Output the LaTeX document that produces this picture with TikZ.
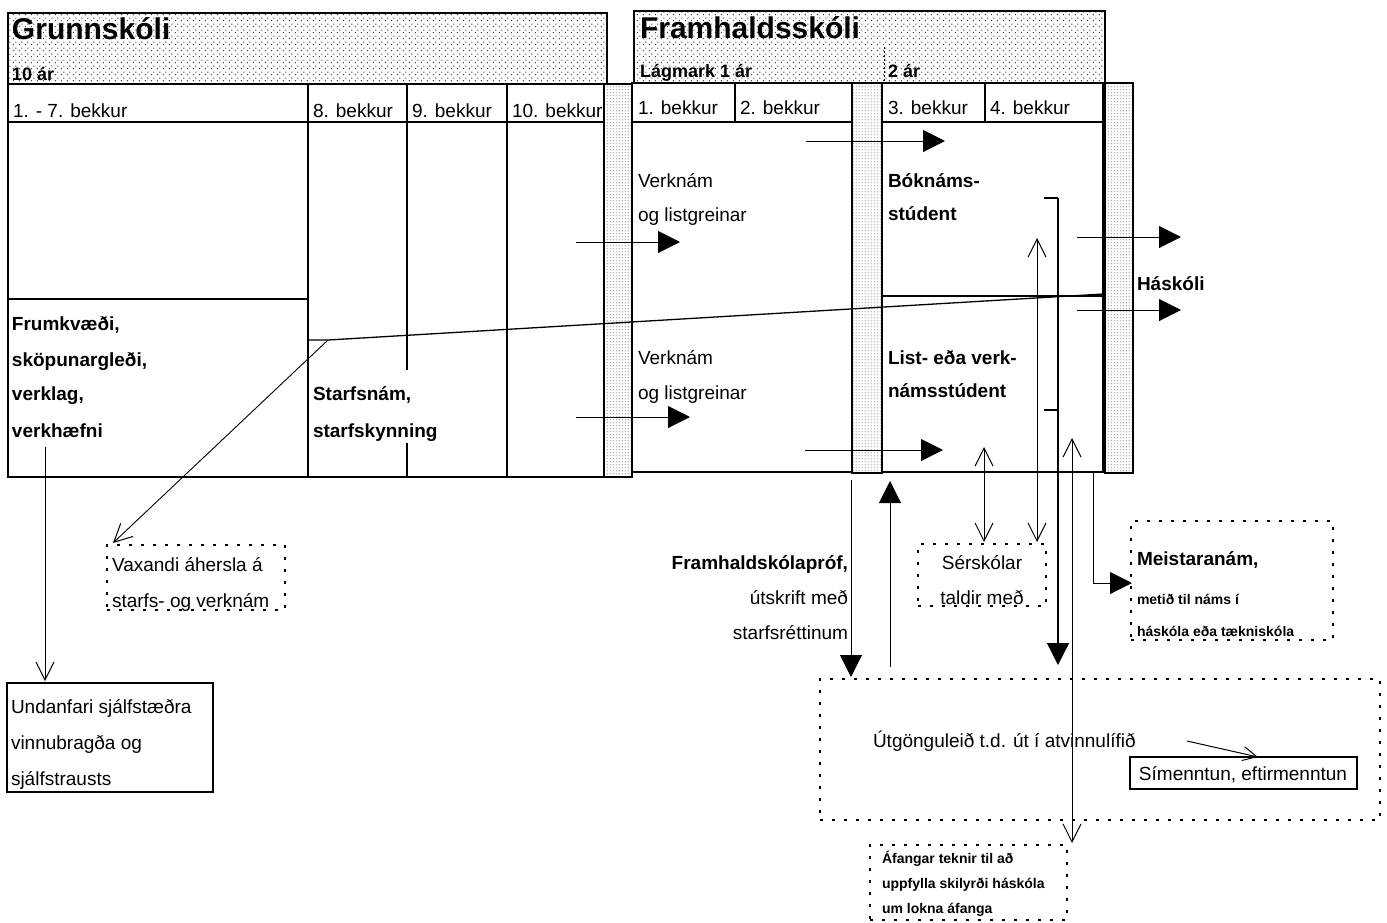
\documentclass[tikz,border=0pt]{standalone}
\usepackage{fontspec}
\setmainfont{Liberation Sans}
\usetikzlibrary{arrows.meta,patterns}
\pgfdeclarepatternformonly{sparsedots}{\pgfpointorigin}{\pgfpoint{6pt}{6pt}}{\pgfpoint{6pt}{6pt}}{%
  \pgfpathcircle{\pgfpoint{1.5pt}{1.5pt}}{0.65pt}%
  \pgfpathcircle{\pgfpoint{4.5pt}{4.5pt}}{0.65pt}%
  \pgfusepath{fill}}
\pgfdeclarepatternformonly{densedots}{\pgfpointorigin}{\pgfpoint{3pt}{3pt}}{\pgfpoint{3pt}{3pt}}{%
  \pgfpathcircle{\pgfpoint{1.5pt}{1.5pt}}{0.6pt}%
  \pgfusepath{fill}}
\tikzset{
  frame/.style={draw, line width=1.3pt, inner sep=0pt, outer sep=0pt, anchor=north west},
  hdr/.style={frame, pattern=sparsedots},
  bar/.style={frame, pattern=densedots},
  dotbox/.style={draw, line width=1.2pt, dash pattern=on 3pt off 9pt, inner sep=0pt, outer sep=0pt, anchor=north west},
  solidbox/.style={frame},
  txt/.style={anchor=base west, inner sep=0pt, outer sep=0pt, font=\fontsize{19}{22}\selectfont},
  btxt/.style={txt, font=\fontsize{19}{22}\selectfont\bfseries},
  stxt/.style={txt, font=\fontsize{14}{16}\selectfont\bfseries},
  ttl/.style={txt, font=\fontsize{30}{34}\selectfont\bfseries},
  hsub/.style={txt, font=\fontsize{18}{20}\selectfont\bfseries},
  ln/.style={line width=1.3pt},
  farr/.style={line width=1pt, -{Triangle[length=22pt,width=22pt]}},
  oarr/.style={line width=0.9pt, -{Straight Barb[length=18pt,width=18pt,line width=1pt]}},
  doarr/.style={line width=0.9pt, {Straight Barb[length=18pt,width=18pt,line width=1pt]}-{Straight Barb[length=18pt,width=18pt,line width=1pt]}},
}
\begin{document}
\begin{tikzpicture}[x=1pt,y=-1pt]
\useasboundingbox (0,0) rectangle (1387,922);
% ---------- headers
\node[hdr, minimum width=599pt, minimum height=71pt] (ghdr) at (8,13) {};
\node[hdr, minimum width=471pt, minimum height=72pt] (fhdr) at (634,11) {};
\draw[line width=1pt, dash pattern=on 2pt off 2pt] (884,47) -- (884,83);
\node[ttl] (gtitle) at (12,39) {Grunnskóli};
\node[hsub] (gyears) at (12,80) {10 ár};
\node[ttl] (ftitle) at (640,38) {Framhaldsskóli};
\node[hsub] (fyears1) at (640,77) {Lágmark 1 ár};
\node[hsub] (fyears2) at (888,77) {2 ár};
% ---------- main boxes
\node[frame, minimum width=596pt, minimum height=393pt] (gbox) at (8,84) {};
\node[bar, minimum width=28pt, minimum height=393pt] (bar1) at (604,84) {};
\node[frame, minimum width=220pt, minimum height=389pt] (fbox1) at (632,83) {};
\node[bar, minimum width=30pt, minimum height=390pt] (bar2) at (852,83) {};
\node[frame, minimum width=221pt, minimum height=389pt] (fbox2) at (882,83) {};
\node[bar, minimum width=28pt, minimum height=390pt] (bar3) at (1105,83) {};
% grunnskoli internal lines
\draw[ln] (8,122) -- (604,122);
\draw[ln] (308,84) -- (308,477);
\draw[ln] (407,84) -- (407,370);
\draw[ln] (407,443) -- (407,477);
\draw[ln] (507,84) -- (507,477);
\draw[ln] (8,299) -- (308,299);
% framhalds internal lines
\draw[ln] (632,122) -- (852,122);
\draw[ln] (735,83) -- (735,122);
\draw[ln] (882,122) -- (1103,122);
\draw[ln] (985,83) -- (985,122);
\draw[ln] (882,296) -- (1103,296);
% slanted divider
\coordinate (kink) at (328,340);
\draw[ln] (308,340) -- (kink) -- (1103,294);
% ---------- row labels
\node[txt] (b17) at (13,117) {1. - 7. bekkur};
\node[txt] (b8) at (313,117) {8. bekkur};
\node[txt] (b9) at (412,117) {9. bekkur};
\node[txt] (b10) at (512,117) {10. bekkur};
\node[txt] (f1) at (638,114) {1. bekkur};
\node[txt] (f2) at (740,114) {2. bekkur};
\node[txt] (f3) at (888,114) {3. bekkur};
\node[txt] (f4) at (990,114) {4. bekkur};
% ---------- content texts
\node[btxt] (fr1) at (12,330) {Frumkvæði,};
\node[btxt] (fr2) at (12,366) {sköpunargleði,};
\node[btxt] (fr3) at (12,400) {verklag,};
\node[btxt] (fr4) at (12,437) {verkhæfni};
\node[btxt] (st1) at (313,400) {Starfsnám,};
\node[btxt] (st2) at (313,437) {starfskynning};
\node[txt] (vk1) at (638,187) {Verknám};
\node[txt] (vk2) at (638,221) {og listgreinar};
\node[txt] (vk3) at (638,364) {Verknám};
\node[txt] (vk4) at (638,399) {og listgreinar};
\node[btxt] (bk1) at (888,187) {Bóknáms-};
\node[btxt] (bk2) at (888,220) {stúdent};
\node[btxt] (ls1) at (888,364) {List- eða verk-};
\node[btxt] (ls2) at (888,397) {námsstúdent};
\node[btxt] (hask) at (1137,290) {Háskóli};
% ---------- flow arrows inside
\coordinate (a1s) at (576,242); \coordinate (a1e) at (680,242);
\coordinate (a2s) at (576,417); \coordinate (a2e) at (690,417);
\coordinate (a3s) at (806,141); \coordinate (a3e) at (945,141);
\coordinate (a4s) at (805,450); \coordinate (a4e) at (943,450);
\coordinate (a5s) at (1077,237); \coordinate (a5e) at (1181,237);
\coordinate (a6s) at (1077,310); \coordinate (a6e) at (1181,310);
\draw[farr] (a1s) -- (a1e);
\draw[farr] (a2s) -- (a2e);
\draw[farr] (a3s) -- (a3e);
\draw[farr] (a4s) -- (a4e);
\draw[farr] (a5s) -- (a5e);
\draw[farr] (a6s) -- (a6e);
% ---------- lower boxes
\node[dotbox, minimum width=178pt, minimum height=65pt] (vax) at (107,545) {};
\node[txt] (vax1) at (112,571) {Vaxandi áhersla á};
\node[txt] (vax2) at (112,607) {starfs- og verknám};
\node[solidbox, minimum width=206pt, minimum height=109pt] (und) at (7,683) {};
\node[txt] (und1) at (11,713) {Undanfari sjálfstæðra};
\node[txt] (und2) at (11,749) {vinnubragða og};
\node[txt] (und3) at (11,785) {sjálfstrausts};
\node[btxt, anchor=base east] (fp1) at (848,569) {Framhaldskólapróf,};
\node[txt, anchor=base east] (fp2) at (848,604) {útskrift með};
\node[txt, anchor=base east] (fp3) at (848,639) {starfsréttinum};
\node[dotbox, minimum width=128pt, minimum height=62pt] (ser) at (918,544) {};
\node[txt, anchor=base] (ser1) at (982,569) {Sérskólar};
\node[txt, anchor=base] (ser2) at (982,604) {taldir með};
\node[dotbox, minimum width=202pt, minimum height=119pt] (mei) at (1131,521) {};
\node[btxt] (mei1) at (1137,565) {Meistaranám,};
\node[stxt] (mei2) at (1137,604) {metið til náms í};
\node[stxt] (mei3) at (1137,636) {háskóla eða tækniskóla};
\node[dotbox, minimum width=560pt, minimum height=141pt] (utg) at (820,679) {};
\node[txt] (utg1) at (873,747) {Útgönguleið t.d. út í atvinnulífið};
\node[solidbox, minimum width=227pt, minimum height=32pt] (sim) at (1130,757) {};
\node[txt, anchor=base] (sim1) at (1243,780) {Símenntun, eftirmenntun};
\node[dotbox, minimum width=197pt, minimum height=75pt] (afa) at (870,845) {};
\node[stxt] (afa1) at (882,863) {Áfangar teknir til að};
\node[stxt] (afa2) at (882,888) {uppfylla skilyrði háskóla};
\node[stxt] (afa3) at (882,913) {um lokna áfanga};
% ---------- connectors
\draw[oarr] (kink) -- (113,543);
\draw[oarr] (45,447) -- (45,681);
\draw[farr] (851,480) -- (851,677);
\draw[farr] (890,667) -- (890,481);
\draw[doarr] (984,447) -- (984,542);
\draw[doarr] (1037,238) -- (1037,542);
\draw[ln] (1044,198) -- (1058,198);
\draw[ln] (1044,410) -- (1058,410);
\draw[farr, line width=1.3pt] (1058,198) -- (1058,665);
\draw[doarr] (1072,438) -- (1072,843);
\draw[farr] (1093,472) -- (1093,583) -- (1132,583);
\draw[line width=1pt, -{Straight Barb[length=14pt,width=14pt,line width=1pt]}] (1187,741) -- (1258,757);
\end{tikzpicture}
\end{document}
